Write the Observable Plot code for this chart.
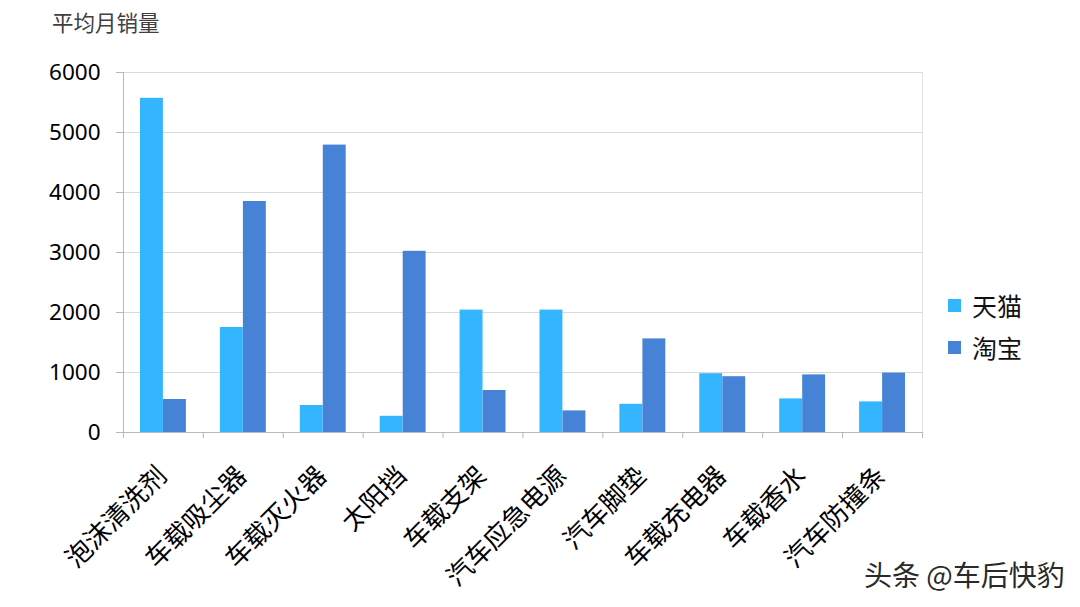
<!DOCTYPE html>
<html>
<head>
<meta charset="utf-8">
<script src="https://cdn.jsdelivr.net/npm/d3@7"></script>
<script src="https://cdn.jsdelivr.net/npm/@observablehq/plot@0.6"></script>
<style>
  html, body { margin: 0; padding: 0; background: #fff; }
  #wrap { position: relative; width: 1080px; height: 607px; overflow: hidden; font-family: "Noto Sans CJK SC", "Noto Sans", sans-serif; }
  #chart { position: absolute; left: 0; top: 0; }
  #title { position: absolute; left: 52px; top: 6px; font-size: 21.5px; color: #404040; }
  #legend { position: absolute; left: 948px; top: 284px; font-size: 25px; color: #111; }
  .li { display: flex; align-items: center; height: 42px; }
  .sw { width: 13px; height: 13px; margin-right: 11px; }
  #caption { position: absolute; left: 864px; top: 560px; font-size: 28px; line-height: 28px; color: #2a2a2a; white-space: nowrap;
    text-shadow: 1px 1px 0 #fff, -1px -1px 0 #fff, 1px -1px 0 #fff, -1px 1px 0 #fff; }
</style>
</head>
<body>
<div id="wrap">
  <div id="chart"></div>
  <div id="title"></div>
  <div id="legend"></div>
  <div id="caption"></div>
</div>
<script>
const titleText = "平均月销量";
const captionText = "头条 @车后快豹";
const categories = ["泡沫清洗剂", "车载吸尘器", "车载灭火器", "太阳挡", "车载支架", "汽车应急电源", "汽车脚垫", "车载充电器", "车载香水", "汽车防撞条"];
const seriesNames = ["天猫", "淘宝"];
const tmall = [5570, 1750, 450, 270, 2040, 2040, 470, 980, 560, 510];
const taobao = [550, 3850, 4790, 3020, 700, 360, 1560, 930, 960, 990];
const yTicks = [0, 1000, 2000, 3000, 4000, 5000, 6000];
const colors = ["#33b5ff", "#4683d6"];

const tmallData = categories.map((c, i) => ({cat: c, value: tmall[i]}));
const taobaoData = categories.map((c, i) => ({cat: c, value: taobao[i]}));

const plot = Plot.plot({
  width: 1080,
  height: 607,
  marginTop: 72,
  marginBottom: 175,
  marginLeft: 123,
  marginRight: 158,
  style: {fontFamily: "'Noto Sans', 'Noto Sans CJK SC', sans-serif", background: "transparent", color: "#000"},
  x: {domain: categories, padding: 0, round: false, label: null},
  y: {domain: [0, 6000], label: null},
  marks: [
    Plot.gridY(yTicks, {stroke: "#d9d9d9", strokeOpacity: 1}),
    Plot.frame({anchor: "right", stroke: "#e3e3e3"}),
    Plot.barY(tmallData, {x: "cat", y: "value", fill: colors[0], insetLeft: 17, insetRight: 40}),
    Plot.barY(taobaoData, {x: "cat", y: "value", fill: colors[1], insetLeft: 40, insetRight: 17}),
    Plot.frame({anchor: "left", stroke: "#b8b8b8"}),
    Plot.ruleY([0], {stroke: "#b8b8b8"}),
    Plot.axisY(yTicks, {tickSize: 7, tickPadding: 16, fontSize: 22.5, stroke: "#b8b8b8", fill: "#000", tickFormat: d => String(d), label: null}),
    Plot.axisX({tickSize: 6, dx: -40, tickFormat: () => "", stroke: "#b8b8b8", label: null}),
    Plot.axisX([categories[categories.length - 1]], {tickSize: 6, dx: 40, tickFormat: () => "", stroke: "#b8b8b8", label: null}),
    Plot.text(categories, {x: d => d, frameAnchor: "bottom", dx: -1, dy: 39, rotate: -45, textAnchor: "end", lineAnchor: "middle", fontSize: 26, fill: "#000", fontFamily: "'Noto Sans CJK SC', sans-serif"})
  ]
});
document.getElementById("chart").appendChild(plot);
document.getElementById("title").textContent = titleText;
document.getElementById("caption").textContent = captionText;
const legend = document.getElementById("legend");
seriesNames.forEach((s, i) => {
  const row = document.createElement("div");
  row.className = "li";
  const sw = document.createElement("span");
  sw.className = "sw";
  sw.style.background = colors[i];
  const t = document.createElement("span");
  t.textContent = s;
  row.appendChild(sw);
  row.appendChild(t);
  legend.appendChild(row);
});
</script>
</body>
</html>
